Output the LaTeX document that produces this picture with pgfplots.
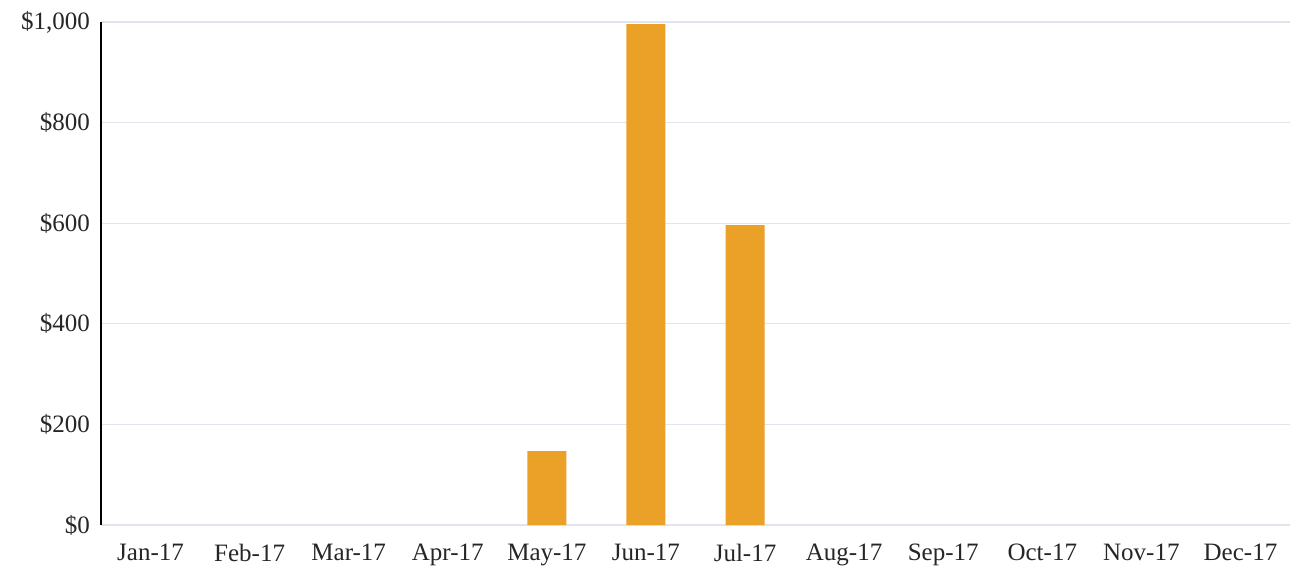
\documentclass[border=0pt]{standalone}
\usepackage{pgfplots}
\pgfplotsset{compat=1.18}
\usepackage{fontspec}
\setmainfont{Liberation Serif}
\definecolor{barorange}{RGB}{235,160,40}
\definecolor{gridc}{RGB}{225,228,236}
\begin{document}
\begin{tikzpicture}
\begin{axis}[
  scale only axis,
  width=594.5pt, height=251.5pt,
  xmin=-0.5, xmax=11.5,
  ymin=0, ymax=1000,
  axis x line*=bottom,
  x axis line style={draw=none},
  axis y line*=left,
  y axis line style={black, line width=1pt},
  ytick={0,200,400,600,800,1000},
  yticklabels={\$0,\$200,\$400,\$600,\$800,{\$1,000}},
  xtick={0,...,11},
  xticklabels={Jan-17,Feb-17,Mar-17,Apr-17,May-17,Jun-17,Jul-17,Aug-17,Sep-17,Oct-17,Nov-17,Dec-17},
  ymajorgrids,
  major grid style={gridc, line width=0.6pt},
  major tick length=0pt,
  tick label style={font=\fontsize{12.5}{14}\selectfont, text=black!85},
  yticklabel style={xshift=-2pt},
  xticklabel style={yshift=-6pt},
]
\addplot[ybar, bar width=19.5pt, fill=barorange, draw=none] coordinates {
  (4,147) (5,996) (6,596)
};
\end{axis}
\pgfresetboundingbox
\path (-50.5pt,-22pt) rectangle (594.5pt,262.5pt);
\end{tikzpicture}
\end{document}
